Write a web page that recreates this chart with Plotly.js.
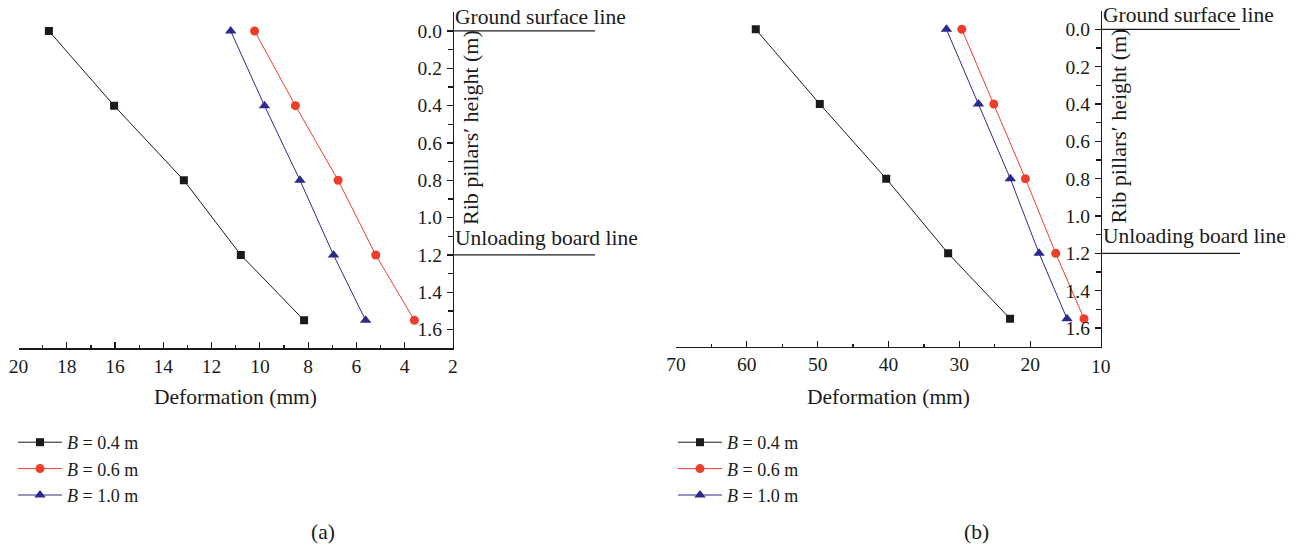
<!DOCTYPE html>
<html>
<head>
<meta charset="utf-8">
<script src="https://cdn.plot.ly/plotly-3.0.1.min.js"></script>
<style>html,body{margin:0;padding:0;background:#fff;}#chart{width:1299px;height:548px;}</style>
</head>
<body>
<div id="chart"></div>
<script>
// Heights along rib pillar (m)
const heights = [0.0, 0.4, 0.8, 1.2, 1.55];
// Panel (a) deformation (mm)
const defA_B04 = [18.74, 16.04, 13.15, 10.79, 8.17];
const defA_B06 = [10.22, 8.53, 6.76, 5.20, 3.60];
const defA_B10 = [11.21, 9.81, 8.34, 6.95, 5.62];
// Panel (b) deformation (mm)
const defB_B04 = [58.74, 49.70, 40.32, 31.58, 22.84];
const defB_B06 = [29.65, 25.13, 20.67, 16.39, 12.40];
const defB_B10 = [31.82, 27.30, 22.80, 18.74, 14.80];
const seriesNames = ['<i>B</i> = 0.4 m', '<i>B</i> = 0.6 m', '<i>B</i> = 1.0 m'];
const yTitle = 'Rib pillars\u2032 height (m)';
const xTitle = 'Deformation (mm)';
const refLabels = ['Ground surface line', 'Unloading board line'];
const refHeights = [0.0, 1.2];
const captions = ['(a)', '(b)'];
// x-axis ranges (deformation, mm) and end-of-axis tick labels
const xRangeA = [20, 2];
const xRangeB = [70, 10];
const xEndTickLabels = ['2', '10'];

const FONT = '"Liberation Serif", "Times New Roman", serif';
const colors = ['#1a1a1a', '#ee3e2a', '#2d2a8c'];
const symbols = ['square', 'circle', 'triangle-up'];
const msizes = [8, 9, 10];
const TICKSIZE = 19.5;

function mk(x, i, xa, ya, lg) {
  return {
    x: x, y: heights, xaxis: xa, yaxis: ya, type: 'scatter', mode: 'lines+markers',
    name: seriesNames[i], legend: lg,
    line: {color: colors[i], width: 1},
    marker: {color: colors[i], symbol: symbols[i], size: msizes[i]}
  };
}
const data = [
  mk(defA_B04, 0, 'x', 'y', 'legend'),
  mk(defA_B06, 1, 'x', 'y', 'legend'),
  mk(defA_B10, 2, 'x', 'y', 'legend'),
  mk(defB_B04, 0, 'x2', 'y2', 'legend2'),
  mk(defB_B06, 1, 'x2', 'y2', 'legend2'),
  mk(defB_B10, 2, 'x2', 'y2', 'legend2')
];

const W = 1299, H = 548;
const px = v => v / W, py = v => 1 - v / H;

function xax(dom, range, dtick, mdt, anchor) {
  return {
    domain: dom, range: range, anchor: anchor, dtick: dtick, tick0: 0,
    showline: true, linecolor: '#1a1a1a', linewidth: 1.2, showgrid: false, zeroline: false,
    ticks: 'inside', ticklen: 6, tickcolor: '#1a1a1a', tickwidth: 1.2,
    minor: {dtick: mdt, ticks: 'inside', ticklen: 3, tickcolor: '#1a1a1a', tickwidth: 1.2, showgrid: false},
    tickfont: {family: FONT, size: TICKSIZE, color: '#1a1a1a'}, fixedrange: true
  };
}
function yax(dom, anchor) {
  return {
    domain: dom, range: [1.7, -0.1], anchor: anchor, side: 'right', dtick: 0.2, tick0: 0,
    tickformat: '.1f', showline: true, linecolor: '#1a1a1a', linewidth: 1.2, showgrid: false, zeroline: false,
    ticks: 'inside', ticklen: 6, tickcolor: '#1a1a1a', tickwidth: 1.2, ticklabelposition: 'inside',
    ticklabelstandoff: 6,
    minor: {dtick: 0.1, ticks: 'inside', ticklen: 5, tickcolor: '#1a1a1a', tickwidth: 1.2, showgrid: false},
    tickfont: {family: FONT, size: TICKSIZE, color: '#1a1a1a'}, fixedrange: true
  };
}

const annFont = {family: FONT, size: 21.5, color: '#1a1a1a'};
const annotations = [];
const shapes = [];
[['x', 'y', 142, xRangeA], ['x2', 'y2', 139, xRangeB]].forEach(([xa, ya, len, rng], k) => {
  const dw = k === 0 ? (453 - 18.5) : (1101 - 676);
  refLabels.forEach((t, j) => {
    shapes.push({type: 'line', xref: xa + ' domain', yref: ya, x0: 1, x1: 1 + len / dw,
      y0: refHeights[j], y1: refHeights[j], line: {color: '#1a1a1a', width: 1.2}});
    annotations.push({xref: xa + ' domain', yref: ya, x: 1, y: refHeights[j], xanchor: 'left', yanchor: 'bottom',
      xshift: 0, yshift: j === 0 ? 0 : 3, text: t, showarrow: false, font: annFont});
  });
  annotations.push({xref: xa + ' domain', yref: ya, x: 1, y: 0.52, xanchor: 'center', yanchor: 'middle',
    xshift: 17, textangle: -90, text: yTitle, showarrow: false, font: {family: FONT, size: 22, color: '#1a1a1a'}});
  annotations.push({xref: xa + ' domain', yref: 'paper', x: 0.5, y: py(397), xanchor: 'center', yanchor: 'middle',
    text: xTitle, showarrow: false, font: annFont});
  // end tick label at the right end of the x axis (hidden by Plotly next to the inside y labels)
  annotations.push({xref: xa, yref: 'paper', x: rng[1], y: py(366), xanchor: 'center', yanchor: 'middle',
    text: xEndTickLabels[k], showarrow: false, font: {family: FONT, size: TICKSIZE, color: '#1a1a1a'}});
});
annotations.push({xref: 'paper', yref: 'paper', x: px(323), y: py(532), xanchor: 'center', yanchor: 'middle',
  text: captions[0], showarrow: false, font: annFont});
annotations.push({xref: 'paper', yref: 'paper', x: px(976), y: py(532), xanchor: 'center', yanchor: 'middle',
  text: captions[1], showarrow: false, font: annFont});

const legBase = {font: {family: FONT, size: 18, color: '#1a1a1a'}, bgcolor: 'rgba(0,0,0,0)',
  xanchor: 'left', yanchor: 'top', tracegroupgap: 0, itemwidth: 44};

const layout = {
  width: W, height: H, margin: {l: 0, r: 0, t: 0, b: 0},
  paper_bgcolor: '#fff', plot_bgcolor: '#fff',
  font: {family: FONT, color: '#1a1a1a'},
  xaxis: xax([px(18.5), px(453)], xRangeA, 2, 1, 'y'),
  yaxis: yax([py(348.3), py(12.3)], 'x'),
  xaxis2: xax([px(676), px(1101)], xRangeB, 10, 5, 'y2'),
  yaxis2: yax([py(346.7), py(10.7)], 'x2'),
  showlegend: true,
  legend: Object.assign({x: px(13), y: py(424)}, legBase),
  legend2: Object.assign({x: px(673), y: py(424)}, legBase),
  annotations: annotations,
  shapes: shapes
};

Plotly.newPlot('chart', data, layout, {displayModeBar: false, staticPlot: true});
</script>
</body>
</html>
